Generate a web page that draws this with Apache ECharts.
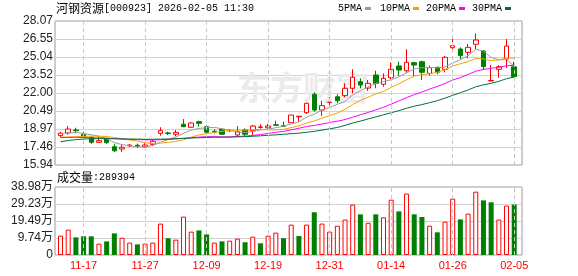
<!DOCTYPE html>
<html><head><meta charset="utf-8">
<script src="https://cdn.jsdelivr.net/npm/echarts@6/dist/echarts.min.js"></script>
<style>html,body{margin:0;padding:0;background:#fff}#c{width:578px;height:276px}</style>
</head><body><div id="c"></div>
<script>
const stockName = '河钢资源';
const stockInfo = '[000923] 2026-02-05 11:30';
const volName = '成交量';
const volLast = ':289394';
const maNames = ['5PMA', '10PMA', '20PMA', '30PMA'];
const maColors = ['#9b9b9b', '#f5a300', '#ff00ff', '#00703a'];

const dates = ['11-12','11-13','11-14','11-17','11-18','11-19','11-20','11-21','11-24','11-25','11-26','11-27','11-28','12-01','12-02','12-03','12-04','12-05','12-08','12-09','12-10','12-11','12-12','12-15','12-16','12-17','12-18','12-19','12-22','12-23','12-24','12-25','12-26','12-29','12-30','12-31','01-05','01-06','01-07','01-08','01-09','01-12','01-13','01-14','01-15','01-16','01-19','01-20','01-21','01-22','01-23','01-26','01-27','01-28','01-29','01-30','02-02','02-03','02-04','02-05'];
const labelDates = ['11-17','11-27','12-09','12-19','12-31','01-14','01-26','02-05'];

const open  = [18.41,18.64,18.89,18.53,18.27,17.85,18.13,17.48,17.29,17.55,17.60,17.48,17.68,18.61,18.64,18.53,19.37,19.12,19.59,19.17,18.78,18.95,18.86,18.47,18.89,18.83,19.10,19.08,19.33,19.25,19.50,20.00,20.35,21.90,20.57,21.20,21.69,21.78,22.40,22.96,22.42,23.52,22.74,23.29,24.28,23.88,24.56,24.64,23.66,24.17,24.00,25.82,25.71,25.43,26.11,25.54,23.02,24.00,24.87,24.22];
const close = [18.61,18.97,18.83,18.27,17.85,17.99,17.82,17.14,17.43,17.62,17.54,17.62,17.94,18.83,18.60,18.69,19.17,19.48,19.45,18.70,18.74,18.53,18.82,18.74,18.53,19.22,19.15,19.22,19.29,19.20,20.15,20.05,21.14,20.57,20.94,21.24,21.36,22.40,23.33,22.68,22.82,22.80,23.24,24.00,23.94,24.59,24.36,23.75,24.14,23.75,25.01,25.99,25.15,25.85,26.47,24.22,23.06,24.22,25.96,23.38];
const low   = [18.27,18.49,18.61,18.19,17.73,17.82,17.73,17.03,17.03,17.46,17.36,17.37,17.54,18.41,18.47,18.36,19.12,19.06,19.17,18.61,18.60,18.47,18.72,18.32,18.38,18.47,19.00,19.00,19.22,19.17,19.50,19.59,20.24,20.43,20.07,20.99,21.14,21.64,21.98,22.40,22.18,22.40,22.54,23.16,23.44,23.66,23.44,23.10,23.46,23.58,23.75,25.48,24.87,24.93,25.69,23.94,22.96,23.29,24.09,23.33];
const high  = [18.74,19.22,19.08,18.74,18.38,18.32,18.24,17.73,17.68,17.71,17.75,17.77,18.11,19.12,18.74,18.89,19.81,19.54,19.67,19.28,18.95,19.03,18.95,19.22,19.03,19.31,19.39,19.39,19.67,19.59,20.15,20.05,21.19,22.06,21.36,21.64,21.90,22.82,24.00,23.24,23.10,23.88,23.66,24.59,24.64,25.69,24.64,24.73,24.31,24.22,25.12,26.55,25.85,26.13,27.03,25.63,24.36,24.36,26.55,24.64];

const ma5  = [18.57,18.64,18.68,18.59,18.49,18.36,18.15,17.83,17.66,17.56,17.47,17.45,17.60,17.86,18.08,18.30,18.60,18.88,19.02,19.08,19.11,18.99,18.86,18.72,18.67,18.77,18.89,18.97,19.08,19.22,19.40,19.58,19.97,20.22,20.57,20.79,21.05,21.30,21.85,22.20,22.52,22.81,22.98,23.11,23.36,23.72,24.03,24.13,24.16,24.12,24.20,24.53,24.81,25.15,25.69,25.54,25.00,24.80,24.82,24.25];
const ma10 = [18.28,18.30,18.32,18.35,18.37,18.37,18.34,18.25,18.15,18.05,17.95,17.82,17.74,17.78,17.85,17.92,18.06,18.28,18.47,18.58,18.68,18.78,18.86,18.88,18.88,18.92,18.93,18.91,18.90,18.94,19.09,19.24,19.47,19.65,19.89,20.10,20.32,20.63,21.04,21.39,21.65,21.93,22.14,22.48,22.78,23.12,23.42,23.55,23.63,23.74,23.96,24.28,24.47,24.65,24.91,24.87,24.74,24.79,24.97,24.93];
const ma20 = [18.25,18.26,18.27,18.26,18.24,18.22,18.20,18.16,18.12,18.10,18.08,18.06,18.05,18.07,18.10,18.14,18.19,18.24,18.29,18.33,18.33,18.31,18.31,18.34,18.37,18.43,18.50,18.60,18.69,18.77,18.90,19.03,19.19,19.27,19.39,19.52,19.63,19.77,19.97,20.17,20.37,20.58,20.80,21.07,21.34,21.61,21.87,22.09,22.34,22.56,22.81,23.10,23.30,23.57,23.84,23.99,24.08,24.17,24.30,24.34];
const ma30 = [17.90,18.00,18.08,18.13,18.15,18.16,18.16,18.15,18.14,18.13,18.12,18.11,18.11,18.12,18.13,18.15,18.18,18.21,18.24,18.26,18.28,18.28,18.29,18.31,18.33,18.36,18.40,18.44,18.48,18.53,18.58,18.62,18.70,18.77,18.88,18.99,19.10,19.28,19.48,19.64,19.82,19.99,20.17,20.34,20.52,20.72,20.89,21.03,21.19,21.36,21.57,21.81,22.03,22.26,22.53,22.69,22.82,22.99,23.21,23.35];

// volume in 万
const volume = [11.1,14.5,10.1,10.7,10.7,6.5,7.8,12.4,9.9,7.1,6.1,6.5,7.1,18.0,9.6,8.8,22.0,13.4,14.1,11.8,7.1,7.8,8.2,9.4,7.3,10.5,6.7,11.1,12.8,9.6,17.4,10.9,17.4,24.5,18.0,13.4,16.8,20.3,28.9,23.3,18.5,23.3,21.6,31.7,25.0,35.2,23.3,21.8,16.8,13.0,19.1,32.3,20.4,23.7,36.3,31.3,30.2,20.3,28.3,28.94];
const volRise = [1,1,0,0,0,1,0,0,1,1,0,1,1,1,0,1,1,1,0,0,1,0,1,1,0,1,0,1,1,0,1,0,1,0,1,1,1,1,1,0,1,0,1,1,0,1,0,0,1,0,1,1,0,1,1,0,0,1,1,0];

const priceTicks = ['15.94','17.46','18.97','20.49','22.00','23.52','25.04','26.55','28.07'];
const volTicks = ['0','9.74万','19.49万','29.23万','38.98万'];
const priceMin = 15.94, priceMax = 28.07, volMax = 38.98;

const RED = '#ff0000', GREEN = '#008000';
const chart = echarts.init(document.getElementById('c'));

const vlines = {
  symbol: ['none', 'none'], silent: true, animation: false,
  label: { show: false }, emphasis: { disabled: true },
  lineStyle: { type: [4, 3], color: '#c8c8c8', width: 1 },
  data: labelDates.map(d => ({ xAxis: d }))
};

const legendEls = [];
const legTextX = [338, 380, 426, 472], legSqX = [365, 413, 459, 505];
maNames.forEach((n, k) => {
  legendEls.push({ type: 'text', left: legTextX[k], top: 3, style: { text: n, fill: '#000', font: 'normal 10px "Liberation Mono"' } });
  legendEls.push({ type: 'rect', left: legSqX[k], top: 7, shape: { width: 6, height: 3 }, style: { fill: maColors[k] } });
});

const rich = {
  a: { fontSize: 12, fontWeight: 'normal', fontFamily: 'Noto Sans CJK SC', color: '#000' },
  b: { fontSize: 10, fontWeight: 'normal', fontFamily: 'Liberation Mono', color: '#000' }
};

chart.setOption({
  animation: false,
  title: [
    { text: '{a|' + stockName + '}{b|' + stockInfo + '}', left: 56, top: 2, padding: 0, textStyle: { fontWeight: 'normal', rich } },
    { text: '{a|' + volName + '}{b|' + volLast + '}', left: 57, top: 171, padding: 0, textStyle: { fontWeight: 'normal', rich } }
  ],
  graphic: [
    { type: 'text', left: 237, top: 71, z: 1, style: { text: '东方财富', fill: '#ebebeb', font: 'bold 33px "Noto Sans CJK SC"' } }
  ].concat(legendEls),
  grid: [
    { left: 55, top: 21, width: 467, height: 144, show: true, borderColor: '#9a9a9a', borderWidth: 1 },
    { left: 56.66, top: 21, width: 461.4, height: 144 },
    { left: 55, top: 187, width: 467, height: 68, show: true, borderColor: '#9a9a9a', borderWidth: 1 },
    { left: 56.66, top: 187, width: 461.4, height: 68 }
  ],
  xAxis: [
    { gridIndex: 0, type: 'value', min: 0, max: 1, show: false },
    { gridIndex: 1, type: 'category', data: dates, boundaryGap: true, axisLine: { show: false }, axisTick: { show: false }, axisLabel: { show: false }, splitLine: { show: false } },
    { gridIndex: 2, type: 'value', min: 0, max: 1, show: false },
    { gridIndex: 3, type: 'category', data: dates, boundaryGap: true, axisLine: { show: false }, axisTick: { show: false }, splitLine: { show: false },
      axisLabel: { interval: (i, v) => labelDates.indexOf(v) >= 0, color: RED, fontSize: 11, fontFamily: '"Liberation Sans Narrow","Liberation Sans",sans-serif', margin: 5 } }
  ],
  yAxis: [
    { gridIndex: 0, type: 'value', min: 0, max: priceTicks.length - 1, interval: 1, axisLine: { show: false }, axisTick: { show: false },
      axisLabel: { formatter: v => priceTicks[Math.round(v)], margin: 2, fontSize: 12, color: '#222', fontFamily: '"Liberation Sans"' },
      splitLine: { lineStyle: { color: '#d2d2d2', width: 1 } } },
    { gridIndex: 1, type: 'value', min: priceMin, max: priceMax, show: false, splitLine: { show: false } },
    { gridIndex: 2, type: 'value', min: 0, max: volTicks.length - 1, interval: 1, axisLine: { show: false }, axisTick: { show: false },
      axisLabel: { formatter: v => volTicks[Math.round(v)], margin: 2, fontSize: 12, color: '#222', fontFamily: '"Liberation Sans","Noto Sans CJK SC"' },
      splitLine: { lineStyle: { color: '#d2d2d2', width: 1 } } },
    { gridIndex: 3, type: 'value', min: 0, max: volMax, show: false, splitLine: { show: false } }
  ],
  series: [
    { type: 'candlestick', xAxisIndex: 1, yAxisIndex: 1, barWidth: 5,
      data: dates.map((d, i) => [open[i], close[i], low[i], high[i]]),
      itemStyle: { color: '#ffffff', color0: GREEN, borderColor: RED, borderColor0: GREEN, borderWidth: 1 } },
    { name: maNames[0], type: 'line', xAxisIndex: 1, yAxisIndex: 1, data: ma5, symbol: 'none', lineStyle: { width: 1, color: maColors[0] }, markLine: vlines },
    { name: maNames[1], type: 'line', xAxisIndex: 1, yAxisIndex: 1, data: ma10, symbol: 'none', lineStyle: { width: 1, color: maColors[1] } },
    { name: maNames[2], type: 'line', xAxisIndex: 1, yAxisIndex: 1, data: ma20, symbol: 'none', lineStyle: { width: 1, color: maColors[2] } },
    { name: maNames[3], type: 'line', xAxisIndex: 1, yAxisIndex: 1, data: ma30, symbol: 'none', lineStyle: { width: 1, color: maColors[3] } },
    { type: 'bar', xAxisIndex: 3, yAxisIndex: 3, barWidth: 5, markLine: vlines,
      data: volume.map((v, i) => ({ value: v, itemStyle: volRise[i] ? { color: '#ffffff', borderColor: RED, borderWidth: 1 } : { color: GREEN } })) }
  ]
});
</script>
</body></html>
